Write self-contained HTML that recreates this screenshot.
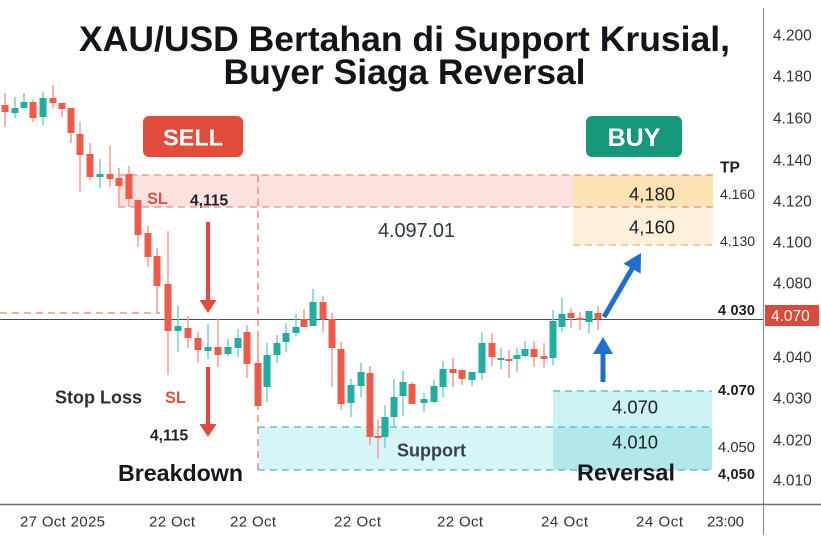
<!DOCTYPE html>
<html><head><meta charset="utf-8"><style>
html,body{margin:0;padding:0;background:#fff;}
body{width:821px;height:548px;overflow:hidden;}
svg{display:block;font-family:"Liberation Sans",sans-serif;}
</style></head><body>
<svg width="821" height="548" viewBox="0 0 821 548" xmlns="http://www.w3.org/2000/svg">
<rect width="821" height="548" fill="#fff"/>
<!-- Title -->
<text x="404.5" y="51" font-size="35.5" font-weight="bold" fill="#111418" text-anchor="middle" textLength="651">XAU/USD Bertahan di Support Krusial,</text>
<text x="404.5" y="84" font-size="35.5" font-weight="bold" fill="#111418" text-anchor="middle" textLength="362">Buyer Siaga Reversal</text>

<!-- Zones -->
<rect x="118" y="175" width="455" height="32" fill="#fde1df"/>
<rect x="573" y="175" width="140" height="32" fill="#fde2b3"/>
<rect x="573" y="207" width="140" height="38" fill="#fef0da"/>
<line x1="118" y1="175" x2="713" y2="175" stroke="#ef8a80" stroke-width="1.3" stroke-dasharray="7,5"/>
<line x1="118" y1="207" x2="713" y2="207" stroke="#ef8a80" stroke-width="1.3" stroke-dasharray="7,5"/>
<line x1="573" y1="245" x2="713" y2="245" stroke="#f2b35e" stroke-width="1.3" stroke-dasharray="7,5"/>
<line x1="119" y1="175" x2="119" y2="207" stroke="#f5b7b0" stroke-width="1"/>

<rect x="258" y="427" width="454" height="43" fill="#d6f5f7"/>
<rect x="553" y="391" width="159" height="36" fill="#cdf2f4"/>
<rect x="553" y="427" width="159" height="43" fill="#b3e8ea"/>
<line x1="258" y1="427" x2="712" y2="427" stroke="#48b9b4" stroke-width="1.3" stroke-dasharray="7,5"/>
<line x1="258" y1="470" x2="712" y2="470" stroke="#48b9b4" stroke-width="1.3" stroke-dasharray="7,5"/>
<line x1="553" y1="391" x2="712" y2="391" stroke="#48b9b4" stroke-width="1.3" stroke-dasharray="7,5"/>

<line x1="258" y1="175" x2="258" y2="470" stroke="#ee7d70" stroke-width="1.3" stroke-dasharray="7,5"/>
<line x1="0" y1="313" x2="160" y2="313" stroke="#ee7d70" stroke-width="1.3" stroke-dasharray="7,5"/>
<line x1="0" y1="319.5" x2="763" y2="319.5" stroke="#4a4f55" stroke-width="1.1"/>

<!-- Axes -->
<line x1="763.5" y1="8" x2="763.5" y2="535" stroke="#8a8f94" stroke-width="1.2"/>
<line x1="0" y1="504.5" x2="821" y2="504.5" stroke="#6a6f74" stroke-width="1.5"/>

<!-- Candles -->
<g stroke-width="1.4">
<g fill="none">
<line x1="5" y1="93" x2="5" y2="127" stroke="#f2978c"/>
<line x1="15" y1="97" x2="15" y2="118" stroke="#6fcdc3"/>
<line x1="24" y1="93" x2="24" y2="108" stroke="#6fcdc3"/>
<line x1="33" y1="100" x2="33" y2="122" stroke="#f2978c"/>
<line x1="43" y1="92" x2="43" y2="125" stroke="#6fcdc3"/>
<line x1="53" y1="85" x2="53" y2="108" stroke="#f2978c"/>
<line x1="62" y1="103" x2="62" y2="117" stroke="#f2978c"/>
<line x1="71" y1="108" x2="71" y2="143" stroke="#f2978c"/>
<line x1="80" y1="122" x2="80" y2="192" stroke="#f2978c"/>
<line x1="90" y1="143" x2="90" y2="180" stroke="#f2978c"/>
<line x1="100" y1="159" x2="100" y2="188" stroke="#6fcdc3"/>
<line x1="110" y1="146" x2="110" y2="187" stroke="#f2978c"/>
<line x1="119" y1="168" x2="119" y2="207" stroke="#f2978c"/>
<line x1="129" y1="166" x2="129" y2="207" stroke="#f2978c"/>
<line x1="138" y1="200" x2="138" y2="247" stroke="#f2978c"/>
<line x1="148" y1="226" x2="148" y2="267" stroke="#f2978c"/>
<line x1="157" y1="248" x2="157" y2="313" stroke="#f2978c"/>
<line x1="168" y1="231" x2="168" y2="375" stroke="#f2978c"/>
<line x1="178" y1="306" x2="178" y2="352" stroke="#6fcdc3"/>
<line x1="188" y1="316" x2="188" y2="348" stroke="#f2978c"/>
<line x1="198" y1="332" x2="198" y2="363" stroke="#f2978c"/>
<line x1="208" y1="324" x2="208" y2="359" stroke="#6fcdc3"/>
<line x1="218" y1="319" x2="218" y2="367" stroke="#f2978c"/>
<line x1="228" y1="339" x2="228" y2="356" stroke="#6fcdc3"/>
<line x1="238" y1="329" x2="238" y2="357" stroke="#6fcdc3"/>
<line x1="247" y1="325" x2="247" y2="378" stroke="#f2978c"/>
<line x1="258" y1="333" x2="258" y2="407" stroke="#f2978c"/>
<line x1="267" y1="343" x2="267" y2="402" stroke="#6fcdc3"/>
<line x1="277" y1="335" x2="277" y2="363" stroke="#6fcdc3"/>
<line x1="286" y1="323" x2="286" y2="352" stroke="#6fcdc3"/>
<line x1="296" y1="314" x2="296" y2="336" stroke="#6fcdc3"/>
<line x1="304" y1="309" x2="304" y2="327" stroke="#f2978c"/>
<line x1="313" y1="289" x2="313" y2="326" stroke="#6fcdc3"/>
<line x1="323" y1="296" x2="323" y2="332" stroke="#f2978c"/>
<line x1="332" y1="313" x2="332" y2="387" stroke="#f2978c"/>
<line x1="341" y1="342" x2="341" y2="410" stroke="#f2978c"/>
<line x1="351" y1="379" x2="351" y2="417" stroke="#6fcdc3"/>
<line x1="361" y1="363" x2="361" y2="397" stroke="#6fcdc3"/>
<line x1="370" y1="366" x2="370" y2="445" stroke="#f2978c"/>
<line x1="378" y1="420" x2="378" y2="458" stroke="#f2978c"/>
<line x1="385" y1="405" x2="385" y2="448" stroke="#6fcdc3"/>
<line x1="394" y1="379" x2="394" y2="426" stroke="#6fcdc3"/>
<line x1="403" y1="371" x2="403" y2="416" stroke="#6fcdc3"/>
<line x1="412" y1="382" x2="412" y2="404" stroke="#f2978c"/>
<line x1="424" y1="393" x2="424" y2="412" stroke="#6fcdc3"/>
<line x1="434" y1="380" x2="434" y2="403" stroke="#6fcdc3"/>
<line x1="443" y1="361" x2="443" y2="397" stroke="#6fcdc3"/>
<line x1="453" y1="358" x2="453" y2="387" stroke="#f2978c"/>
<line x1="462" y1="369" x2="462" y2="385" stroke="#f2978c"/>
<line x1="472" y1="372" x2="472" y2="386" stroke="#6fcdc3"/>
<line x1="482" y1="332" x2="482" y2="380" stroke="#6fcdc3"/>
<line x1="492" y1="333" x2="492" y2="366" stroke="#f2978c"/>
<line x1="501" y1="348" x2="501" y2="369" stroke="#6fcdc3"/>
<line x1="509" y1="350" x2="509" y2="378" stroke="#f2978c"/>
<line x1="517" y1="348" x2="517" y2="372" stroke="#6fcdc3"/>
<line x1="525" y1="341" x2="525" y2="357" stroke="#6fcdc3"/>
<line x1="534" y1="341" x2="534" y2="367" stroke="#f2978c"/>
<line x1="544" y1="343" x2="544" y2="368" stroke="#f2978c"/>
<line x1="553" y1="310" x2="553" y2="365" stroke="#6fcdc3"/>
<line x1="562" y1="298" x2="562" y2="332" stroke="#6fcdc3"/>
<line x1="571" y1="308" x2="571" y2="328" stroke="#f2978c"/>
<line x1="580" y1="312" x2="580" y2="330" stroke="#f2978c"/>
<line x1="589" y1="311" x2="589" y2="333" stroke="#6fcdc3"/>
<line x1="598" y1="306" x2="598" y2="330" stroke="#f2978c"/>
</g>
<g stroke="none">
<rect x="1.5" y="105" width="7" height="7" fill="#ef5b48"/>
<rect x="11.5" y="108" width="7" height="5" fill="#1fae9f"/>
<rect x="20.5" y="102" width="7" height="6" fill="#1fae9f"/>
<rect x="29.5" y="102" width="7" height="16" fill="#ef5b48"/>
<rect x="39.5" y="98" width="7" height="19" fill="#1fae9f"/>
<rect x="49.5" y="98" width="7" height="5" fill="#ef5b48"/>
<rect x="58.5" y="103" width="7" height="6" fill="#ef5b48"/>
<rect x="67.5" y="108" width="7" height="25" fill="#ef5b48"/>
<rect x="76.5" y="134" width="7" height="21" fill="#ef5b48"/>
<rect x="86.5" y="154" width="7" height="23" fill="#ef5b48"/>
<rect x="96.5" y="174" width="7" height="3" fill="#1fae9f"/>
<rect x="106.5" y="174" width="7" height="5" fill="#ef5b48"/>
<rect x="115.5" y="178" width="7" height="8" fill="#ef5b48"/>
<rect x="125.5" y="174" width="7" height="25" fill="#ef5b48"/>
<rect x="134.5" y="200" width="7" height="35" fill="#ef5b48"/>
<rect x="144.5" y="233" width="7" height="24" fill="#ef5b48"/>
<rect x="153.5" y="256" width="7" height="30" fill="#ef5b48"/>
<rect x="164.5" y="284" width="7" height="47" fill="#ef5b48"/>
<rect x="174.5" y="326" width="7" height="5" fill="#1fae9f"/>
<rect x="184.5" y="328" width="7" height="10" fill="#ef5b48"/>
<rect x="194.5" y="338" width="7" height="12" fill="#ef5b48"/>
<rect x="204.5" y="347" width="7" height="4" fill="#1fae9f"/>
<rect x="214.5" y="347" width="7" height="8" fill="#ef5b48"/>
<rect x="224.5" y="347" width="7" height="7" fill="#1fae9f"/>
<rect x="234.5" y="338" width="7" height="10" fill="#1fae9f"/>
<rect x="243.5" y="332" width="7" height="32" fill="#ef5b48"/>
<rect x="254.5" y="363" width="7" height="43" fill="#ef5b48"/>
<rect x="263.5" y="355" width="7" height="32" fill="#1fae9f"/>
<rect x="273.5" y="343" width="7" height="12" fill="#1fae9f"/>
<rect x="282.5" y="333" width="7" height="9" fill="#1fae9f"/>
<rect x="292.5" y="327" width="7" height="6" fill="#1fae9f"/>
<rect x="300.5" y="319" width="7" height="8" fill="#ef5b48"/>
<rect x="309.5" y="302" width="7" height="24" fill="#1fae9f"/>
<rect x="319.5" y="302" width="7" height="17" fill="#ef5b48"/>
<rect x="328.5" y="319" width="7" height="29" fill="#ef5b48"/>
<rect x="337.5" y="349" width="7" height="55" fill="#ef5b48"/>
<rect x="347.5" y="385" width="7" height="18" fill="#1fae9f"/>
<rect x="357.5" y="372" width="7" height="14" fill="#1fae9f"/>
<rect x="366.5" y="373" width="7" height="64" fill="#ef5b48"/>
<rect x="374.5" y="436" width="7" height="2" fill="#ef5b48"/>
<rect x="381.5" y="417" width="7" height="20" fill="#1fae9f"/>
<rect x="390.5" y="397" width="7" height="20" fill="#1fae9f"/>
<rect x="399.5" y="382" width="7" height="14" fill="#1fae9f"/>
<rect x="408.5" y="384" width="7" height="20" fill="#ef5b48"/>
<rect x="420.5" y="399" width="7" height="4" fill="#1fae9f"/>
<rect x="430.5" y="386" width="7" height="16" fill="#1fae9f"/>
<rect x="439.5" y="369" width="7" height="18" fill="#1fae9f"/>
<rect x="449.5" y="369" width="7" height="4" fill="#ef5b48"/>
<rect x="458.5" y="370" width="7" height="9" fill="#ef5b48"/>
<rect x="468.5" y="372" width="7" height="8" fill="#1fae9f"/>
<rect x="478.5" y="343" width="7" height="30" fill="#1fae9f"/>
<rect x="488.5" y="343" width="7" height="14" fill="#ef5b48"/>
<rect x="497.5" y="358" width="7" height="2" fill="#1fae9f"/>
<rect x="505.5" y="359" width="7" height="2" fill="#ef5b48"/>
<rect x="513.5" y="355" width="7" height="4" fill="#1fae9f"/>
<rect x="521.5" y="349" width="7" height="7" fill="#1fae9f"/>
<rect x="530.5" y="349" width="7" height="8" fill="#ef5b48"/>
<rect x="540.5" y="356" width="7" height="3" fill="#ef5b48"/>
<rect x="549.5" y="321" width="7" height="37" fill="#1fae9f"/>
<rect x="558.5" y="314" width="7" height="13" fill="#1fae9f"/>
<rect x="567.5" y="313" width="7" height="5" fill="#ef5b48"/>
<rect x="576.5" y="318" width="7" height="2" fill="#ef5b48"/>
<rect x="585.5" y="311" width="7" height="11" fill="#1fae9f"/>
<rect x="594.5" y="313" width="7" height="6" fill="#ef5b48"/>
</g>
</g>

<!-- SELL / BUY -->
<rect x="143" y="116" width="100" height="41" rx="6" fill="#e24c3b"/>
<text x="193" y="145.5" font-size="23.5" font-weight="bold" fill="#fff" text-anchor="middle">SELL</text>
<rect x="586" y="116" width="96" height="41" rx="6" fill="#17977a"/>
<text x="634" y="146" font-size="25" font-weight="bold" fill="#fff" text-anchor="middle">BUY</text>

<!-- Red arrows -->
<rect x="206" y="222" width="4" height="79" fill="#e5483a"/>
<polygon points="199.5,300 216.5,300 208,313" fill="#e5483a"/>
<rect x="206" y="367" width="4" height="58" fill="#e5483a"/>
<polygon points="199.5,424 216.5,424 208,437" fill="#e5483a"/>

<!-- Blue arrows -->
<line x1="604" y1="317" x2="633" y2="267" stroke="#1f6fd1" stroke-width="5"/>
<polygon points="641,253 640.6,273.6 623.4,263.6" fill="#1f6fd1"/>
<rect x="600.5" y="352" width="5" height="30" fill="#1f6fd1"/>
<polygon points="603,337 613,354 593,354" fill="#1f6fd1"/>

<!-- Annotation text -->
<text x="147" y="204" font-size="16.4" font-weight="bold" fill="#d9534a">SL</text>
<text x="190" y="205.6" font-size="15.6" font-weight="bold" fill="#1d2228">4,115</text>
<text x="378" y="237" font-size="20" fill="#2f3942" textLength="77">4.097.01</text>
<text x="629" y="200.6" font-size="18.4" fill="#1b1f24">4,180</text>
<text x="629" y="233.6" font-size="18.4" fill="#1b1f24">4,160</text>
<text x="720" y="172.6" font-size="15.6" font-weight="bold" fill="#1b1f24">TP</text>
<text x="720" y="199" font-size="14" fill="#2a2f35">4.160</text>
<text x="720" y="246" font-size="14" fill="#2a2f35">4.130</text>
<text x="718" y="315" font-size="14.5" font-weight="bold" fill="#1b1f24" textLength="37">4 030</text>
<text x="718" y="395" font-size="14.5" font-weight="bold" fill="#1b1f24" textLength="37">4.070</text>
<text x="718" y="452" font-size="14.8" fill="#2a2f35" textLength="37">4.050</text>
<text x="718" y="479" font-size="14.5" font-weight="bold" fill="#1b1f24" textLength="37">4,050</text>
<text x="612" y="413.6" font-size="18.4" fill="#1b1f24">4.070</text>
<text x="612" y="448.6" font-size="18.4" fill="#1b1f24">4.010</text>
<text x="577" y="480.5" font-size="23.5" font-weight="bold" fill="#15191e" textLength="98">Reversal</text>
<text x="397" y="456.5" font-size="18" font-weight="bold" fill="#37414a">Support</text>
<text x="55" y="403.5" font-size="18" font-weight="bold" fill="#2b3138">Stop Loss</text>
<text x="165" y="403" font-size="16.4" font-weight="bold" fill="#e0533f">SL</text>
<text x="150" y="440.6" font-size="15.6" font-weight="bold" fill="#1d2228">4,115</text>
<text x="118" y="481" font-size="23.2" font-weight="bold" fill="#15191e" textLength="125">Breakdown</text>

<!-- Right axis labels -->
<g font-size="15.5" fill="#2e3338">
<text x="773" y="40.6">4.200</text>
<text x="773" y="81.6">4.180</text>
<text x="773" y="123.6">4.160</text>
<text x="773" y="165.6">4.140</text>
<text x="773" y="206.6">4.120</text>
<text x="773" y="247.6">4.100</text>
<text x="773" y="288.6">4.080</text>
<text x="773" y="362.6">4.040</text>
<text x="773" y="403.6">4.030</text>
<text x="773" y="445.6">4.020</text>
<text x="773" y="485.6">4.010</text>
</g>
<rect x="765" y="305" width="54" height="21" fill="#d94a3c"/>
<text x="771" y="321" font-size="15.5" fill="#fff">4.070</text>

<!-- X axis labels -->
<g font-size="15" fill="#2e3338">
<text x="20" y="526.4" textLength="85">27 Oct 2025</text>
<text x="149" y="526.4" textLength="46">22 Oct</text>
<text x="230" y="526.4" textLength="46">22 Oct</text>
<text x="334" y="526.4" textLength="47">22 Oct</text>
<text x="437" y="526.4" textLength="46">22 Oct</text>
<text x="541" y="526.4" textLength="47">24 Oct</text>
<text x="636" y="526.4" textLength="47">24 Oct</text>
<text x="707" y="526.4" textLength="37">23:00</text>
</g>
</svg>
</body></html>
